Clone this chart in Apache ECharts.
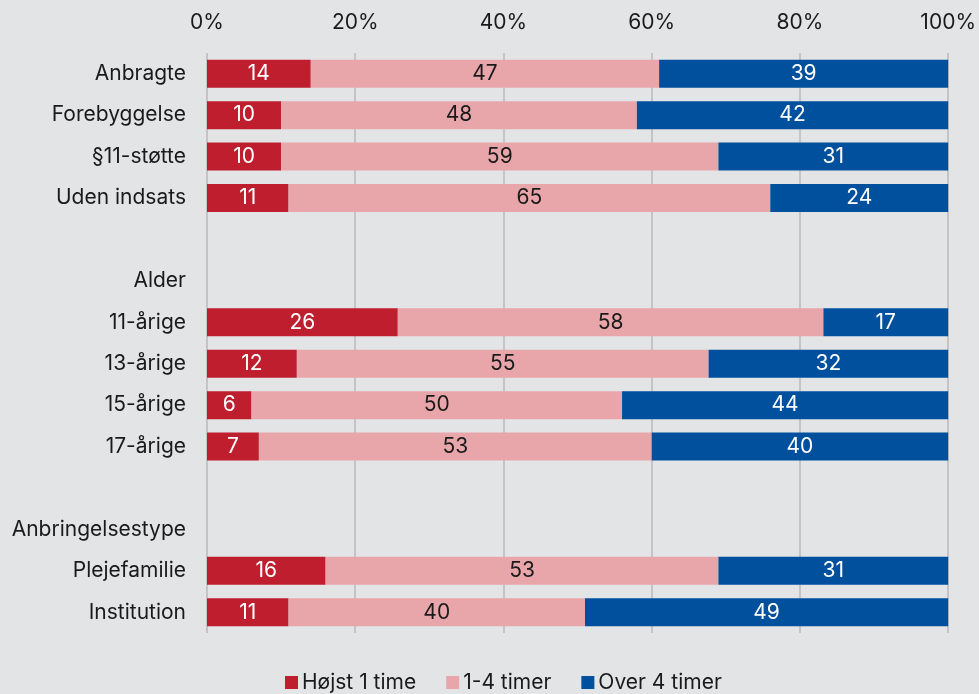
<!DOCTYPE html>
<html><head><meta charset="utf-8">
<script src="https://cdn.jsdelivr.net/npm/echarts@6/dist/echarts.min.js"></script>
<style>html,body{margin:0;padding:0;background:#e3e4e6;}#c{width:979px;height:694px;}</style>
</head><body><div id="c"></div>
<script>
const categories = ['Anbragte','Forebyggelse','§11-støtte','Uden indsats','','Alder','11-årige','13-årige','15-årige','17-årige',' ','Anbringelsestype','Plejefamilie','Institution'];
const hoejst1 = [14,10,10,11,null,null,26,12,6,7,null,null,16,11];
const timer1til4 = [47,48,59,65,null,null,58,55,50,53,null,null,53,40];
const over4 = [39,42,31,24,null,null,17,32,44,40,null,null,31,49];
const seriesNames = ['Højst 1 time','1-4 timer','Over 4 timer'];
const colors = ['#be1e2d','#e8a6ab','#00509e'];
const labelColors = ['#ffffff','#1a1a1a','#ffffff'];
const xTicks = [0,20,40,60,80,100];

const raw = [hoejst1, timer1til4, over4];
const sums = categories.map((c,i)=> raw.reduce((s,a)=>s+(a[i]||0),0));
const font = 'Inter';
const fs = 21;

const series = raw.map((arr,k)=>({
  name: seriesNames[k], type:'bar', stack:'t', barWidth:28,
  itemStyle:{color:colors[k]},
  data: arr.map((v,i)=> v==null? null : {value: v/sums[i]*100, raw:v}),
  label:{show:true, position:'inside', color:labelColors[k], fontFamily:font, fontSize:fs,
    formatter:p=> p.data ? String(p.data.raw) : ''},
  emphasis:{disabled:true}
}));

const chart = echarts.init(document.getElementById('c'));
chart.setOption({
  backgroundColor:'#e3e4e6',
  animation:false,
  grid:{left:207, right:28, top:53, bottom:61, containLabel:false},
  xAxis:{type:'value', position:'top', min:0, max:100, interval:20,
    axisLabel:{formatter:v=>v+'%', color:'#1a1a1a', fontFamily:font, fontSize:fs, margin:20},
    axisLine:{show:false}, axisTick:{show:false},
    splitLine:{show:true, lineStyle:{color:'#c4c4c6', width:2}}},
  yAxis:{type:'category', inverse:true, data:categories,
    axisLabel:{color:'#1a1a1a', fontFamily:font, fontSize:fs, margin:21},
    axisLine:{show:false}, axisTick:{show:false}, splitLine:{show:false}},
  legend:{bottom:-4, left:280, icon:'rect', itemWidth:13, itemHeight:13, itemGap:30,
    textStyle:{color:'#1a1a1a', fontFamily:font, fontSize:fs, padding:[0,0,0,-1]},
    data:seriesNames},
  series
});
</script></body></html>
